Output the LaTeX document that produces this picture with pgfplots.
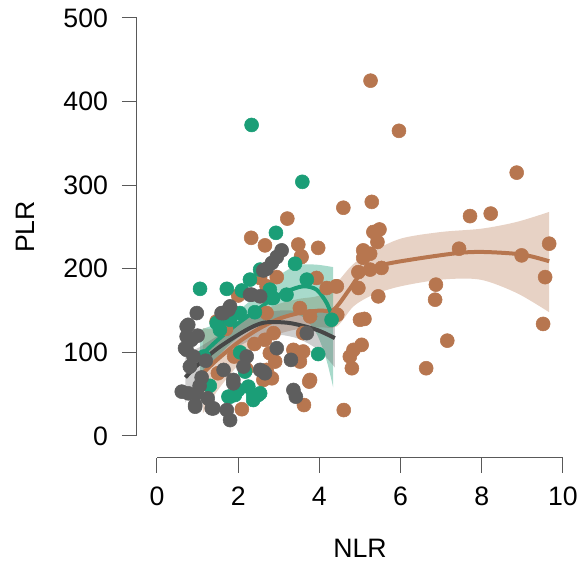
\documentclass[border=0pt]{standalone}
\usepackage{fontspec}
\setmainfont{Liberation Sans}
\usepackage{pgfplots}
\pgfplotsset{compat=1.18}
\usepgfplotslibrary{fillbetween}
\definecolor{cbrown}{HTML}{B7764F}
\definecolor{cgreen}{HTML}{1B9E77}
\definecolor{cgray}{HTML}{5E5E5E}
\definecolor{cgrayline}{HTML}{474747}
\begin{document}
\begin{tikzpicture}
\begin{axis}[
  scale only axis,width=304.5pt,height=313.5pt,
  xmin=0,xmax=10,ymin=0,ymax=500,
  axis x line*=bottom,axis y line*=left,
  axis x line shift=16.5pt,axis y line shift=15pt,
  xtick={0,2,...,10},ytick={0,100,...,500},
  tick align=outside,major tick length=11.25pt,
  axis line style={draw=black!65,line width=0.75pt,-},
  tick style={draw=black!65,line width=0.75pt},
  tick label style={font=\fontsize{20}{22}\selectfont},
  xticklabel style={yshift=-7pt},
  yticklabel style={xshift=-7pt},
  /pgf/number format/assume math mode=true,
  xlabel={NLR},ylabel={PLR},
  every axis x label/.style={at={(axis cs:5,-135)},anchor=center,font=\fontsize{20}{22}\selectfont},
  every axis y label/.style={at={(axis cs:-3.25,250)},rotate=90,anchor=center,font=\fontsize{20}{22}\selectfont},
  clip=false,
  pts/.style={only marks,mark=*,mark size=5.25pt,mark options={draw=none}},
]
% points: brown group
\addplot[pts,fill=cbrown,color=cbrown] coordinates {
(5.26,425) (5.96,365) (8.86,315) (4.59,273) (5.29,280) (7.71,263) (8.22,266) (9.66,230)
(5.33,244) (5.48,247) (5.43,232) (5.08,222) (5.25,218) (5.08,213) (4.96,196) (5.25,199)
(5.53,201) (4.96,177) (5.45,167) (6.87,181) (6.85,163) (7.44,224) (8.98,216) (9.56,190)
(9.51,134) (5.0,139) (5.11,140) (5.04,109) (4.84,103) (4.75,95) (4.80,81) (7.15,114)
(6.63,81) (4.6,31) (3.97,225) (3.75,65) (3.62,37) (4.41,179) (4.44,145) (3.55,215)
(2.32,237) (2.66,228) (3.21,260) (3.48,229) (3.56,214) (2.54,189) (2.95,190) (2.0,168)
(1.47,137) (2.09,32) (2.68,69) (2.83,69) (2.66,115) (2.62,67) (3.93,189) (4.18,177)
(4.43,179) (3.52,153) (3.77,143) (2.7,147) (2.87,123) (3.6,123) (3.36,103) (3.6,101)
(3.52,89) (2.91,89) (2.78,99) (2.7,79) (3.77,67) (2.7,179) (1.9,95) (2.2,80) (1.5,75)
(2.4,110) (1.7,128)
};
% points: green group
\addplot[pts,fill=cgreen,color=cgreen] coordinates {
(2.33,372) (3.58,304) (2.93,243) (1.06,176) (1.72,176) (2.09,174) (2.29,187) (3.40,206)
(3.97,98) (2.54,199) (2.86,165) (2.04,147) (1.47,135) (1.8,47) (2.0,55) (2.37,43)
(1.76,47) (1.92,49) (2.37,49) (2.25,59) (3.69,187) (3.19,169) (2.83,165) (4.3,139)
(2.54,51) (2.49,49) (2.17,77) (1.55,127) (1.8,139) (2.41,148) (2.78,175) (1.15,95)
(1.3,60) (2.05,100)
};
% points: gray group
\addplot[pts,fill=cgray,color=cgray] coordinates {
(3.07,222) (2.95,214) (2.83,207) (2.70,200) (2.62,198) (0.98,147) (0.77,133) (0.73,119)
(0.69,105) (0.61,53) (0.94,37) (1.35,33) (1.72,31) (1.80,19) (2.95,105) (3.30,91)
(3.36,55) (3.42,47) (2.62,77) (0.73,131) (0.85,115) (0.73,103) (0.81,83) (0.77,51)
(0.98,51) (0.94,35) (1.39,33) (1.64,147) (1.76,151) (2.33,169) (2.13,83) (2.21,95)
(2.54,79) (1.88,67) (1.0,120) (1.2,90) (1.1,70) (0.9,95) (1.59,147) (1.8,155) (2.29,169)
(1.64,79) (1.88,63) (2.66,75) (3.69,123) (2.54,167) (1.25,45) (1.05,60)
};
% confidence bands
\addplot[name path=bu,draw=none,smooth] coordinates {
(1.13,129) (1.5,128) (2.0,136) (2.5,148) (3.0,158) (3.5,164) (4.0,168) (4.4,182)
(4.8,204) (5.2,218) (6.0,236) (7.0,244) (8.0,248) (8.86,256) (9.66,268)};
\addplot[name path=bl,draw=none,smooth] coordinates {
(1.13,27) (1.5,55) (2.0,85) (2.5,110) (3.0,122) (3.5,128) (4.0,130) (4.43,131)
(4.84,155) (5.33,169) (6.0,179) (7.0,187) (7.96,187) (8.86,171) (9.66,148)};
\addplot[fill=cbrown,fill opacity=0.33,draw=none] fill between[of=bu and bl];
\addplot[name path=gu,draw=none,smooth] coordinates {
(1.06,127) (1.5,135) (2.0,150) (2.5,170) (2.95,190) (3.44,204) (3.9,205) (4.34,202)};
\addplot[name path=gl,draw=none,smooth] coordinates {
(1.06,65) (1.5,95) (2.0,118) (2.5,133) (3.0,140) (3.5,145) (3.9,125) (4.15,95) (4.34,58)};
\addplot[fill=cgreen,fill opacity=0.38,draw=none] fill between[of=gu and gl];
\addplot[name path=yu,draw=none,smooth] coordinates {
(0.7,100) (1.0,105) (1.5,120) (2.0,135) (2.5,145) (3.0,150) (3.5,150) (4.0,152) (4.38,152)};
\addplot[name path=yl,draw=none,smooth] coordinates {
(0.7,40) (1.0,65) (1.5,90) (2.0,107) (2.5,118) (3.0,121) (3.5,116) (4.0,102) (4.38,82)};
\addplot[fill=cgray,fill opacity=0.3,draw=none] fill between[of=yu and yl];
% smooth fits
\addplot[cbrown,line width=3pt,smooth] coordinates {
(1.13,75) (1.5,92) (2.0,112) (2.5,128) (3.0,140) (3.5,147) (4.0,150) (4.35,151)
(4.75,176) (5.0,192) (5.5,204) (6.4,212) (7.45,219) (8.1,220) (9.0,217) (9.66,209)};
\addplot[cgreen,line width=3pt,smooth] coordinates {
(1.06,95) (1.5,115) (2.0,135) (2.5,152) (2.87,165) (3.2,173) (3.6,179) (3.93,175)
(4.18,159) (4.34,139)};
\addplot[cgrayline,line width=3pt,smooth] coordinates {
(0.7,70) (1.0,85) (1.5,105) (2.0,121) (2.37,131) (2.7,136) (3.28,135) (3.93,127) (4.38,117)};
\coordinate (bbsw) at (axis cs:-3.867,-161.5);
\coordinate (bbne) at (axis cs:10.493,521.5);
\end{axis}
\pgfresetboundingbox
\path[use as bounding box] (bbsw) rectangle (bbne);
\end{tikzpicture}
\end{document}
